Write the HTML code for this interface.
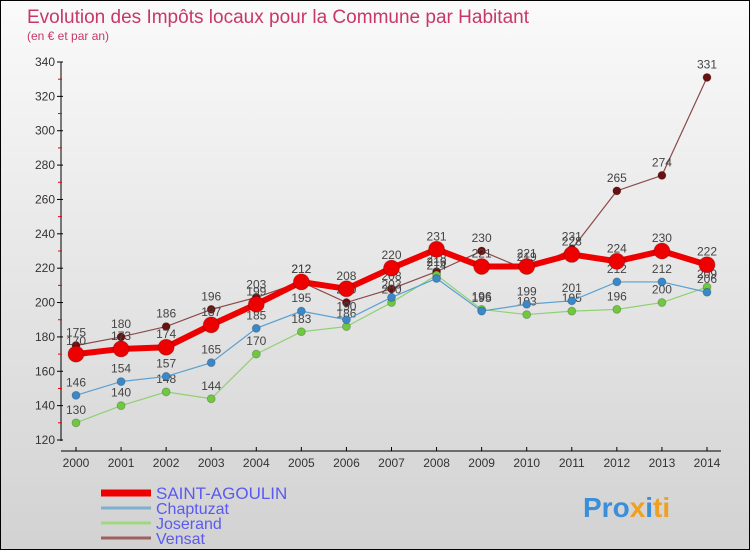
<!DOCTYPE html>
<html><head><meta charset="utf-8"><style>
body{margin:0}
#c{width:750px;height:550px;position:relative;box-sizing:border-box;border:1px solid #000;background:linear-gradient(#fafafa,#d2d2d2);font-family:"Liberation Sans",sans-serif;overflow:hidden}
</style></head><body>
<div id="c">
<svg id="s" width="750" height="550" style="position:absolute;left:0;top:0" font-family="Liberation Sans, sans-serif">
<text x="26" y="22" font-size="19" textLength="502" fill="#c8376a">Evolution des Impôts locaux pour la Commune par Habitant</text>
<text x="26" y="39" font-size="12" fill="#c8376a">(en € et par an)</text>
<g id="axes"></g><g id="series"></g><g id="legend"></g>
<text x="582" y="516" font-size="28" font-weight="bold" fill="#3a8fd8">Pro<tspan fill="#f0a020">x</tspan><tspan fill="#3a8fd8">i</tspan><tspan fill="#f0a020">ti</tspan></text>
</svg>
</div>
<script>
const years=[2000,2001,2002,2003,2004,2005,2006,2007,2008,2009,2010,2011,2012,2013,2014];
const saint=[170,173,174,187,199,212,208,220,231,221,221,228,224,230,222];
const chaptuzat=[146,154,157,165,185,195,190,203,214,195,199,201,212,212,206];
const joserand=[130,140,148,144,170,183,186,200,216,196,193,195,196,200,209];
const vensat=[175,180,186,196,203,212,200,208,218,230,219,231,265,274,331];
const yTicks=[120,140,160,180,200,220,240,260,280,300,320,340];
const NS="http://www.w3.org/2000/svg";
const X=i=>75+i*(706-75)/14;
const Y=v=>439-(v-120)*(439-61)/220;
function mk(t,a,p){const e=document.createElementNS(NS,t);for(const k in a)e.setAttribute(k,a[k]);p.appendChild(e);return e;}
const ax=document.getElementById('axes');
let e=mk('line',{x1:60,y1:61,x2:60,y2:440,stroke:'#000'},ax);


e=mk('line',{x1:60,y1:450,x2:720,y2:450,stroke:'#000'},ax);


yTicks.forEach(v=>{mk('line',{x1:56,y1:Y(v),x2:62,y2:Y(v),stroke:'#000'},ax);
 if(v<340)mk('line',{x1:57,y1:Y(v+10),x2:61,y2:Y(v+10),stroke:'#e00'},ax);
 const t=mk('text',{x:54,y:Y(v)+4,'text-anchor':'end','font-size':12,fill:'#333'},ax);t.textContent=v;
 
 });
years.forEach((yr,i)=>{mk('line',{x1:X(i),y1:446,x2:X(i),y2:450,stroke:'#000'},ax);
 const t=mk('text',{x:X(i),y:466,'text-anchor':'middle','font-size':12,fill:'#333'},ax);t.textContent=yr;
 
 });
const sg=document.getElementById('series');
const defs=[
 {d:vensat,c:'#8a4a4a',m:'#6a1010',w:1.2,r:4,n:'vensat'},
 {d:joserand,c:'#90d070',m:'#70c840',w:1.2,r:4,n:'joserand'},
 {d:chaptuzat,c:'#5aa0d0',m:'#3a88c8',w:1.2,r:4,n:'chaptuzat'},
 {d:saint,c:'#ee0000',m:'#ee0000',w:6,r:8,n:'saint-agoulin'}];
defs.forEach(s=>{const g=mk('g',{},sg);
 
 
 mk('polyline',{points:s.d.map((v,i)=>X(i)+','+Y(v)).join(' '),fill:'none',stroke:s.c,'stroke-width':s.w},g);
 s.d.forEach((v,i)=>{const c=mk('circle',{cx:X(i),cy:Y(v),r:s.r,fill:s.m,stroke:'rgba(0,0,0,0.2)'},g);
  
  
  const t=mk('text',{x:X(i),y:Y(v)-9,'text-anchor':'middle','font-size':12,fill:'#444'},g);t.textContent=v;
  
  });});
const lg=document.getElementById('legend');
[['SAINT-AGOULIN','#ee0000',7],['Chaptuzat','#7fb0d0',3],['Joserand','#a0d880',3],['Vensat','#a06060',3]].forEach((l,i)=>{
 const y=492+i*15;
 const ln=mk('line',{x1:100,y1:y,x2:150,y2:y,stroke:l[1],'stroke-width':l[2]},lg);
 
 
 const t=mk('text',{x:155,y:y+6,'font-size':i==0?17:16,fill:'#5a5af0'},lg);t.textContent=l[0];
 
 });
</script>
</body></html>
